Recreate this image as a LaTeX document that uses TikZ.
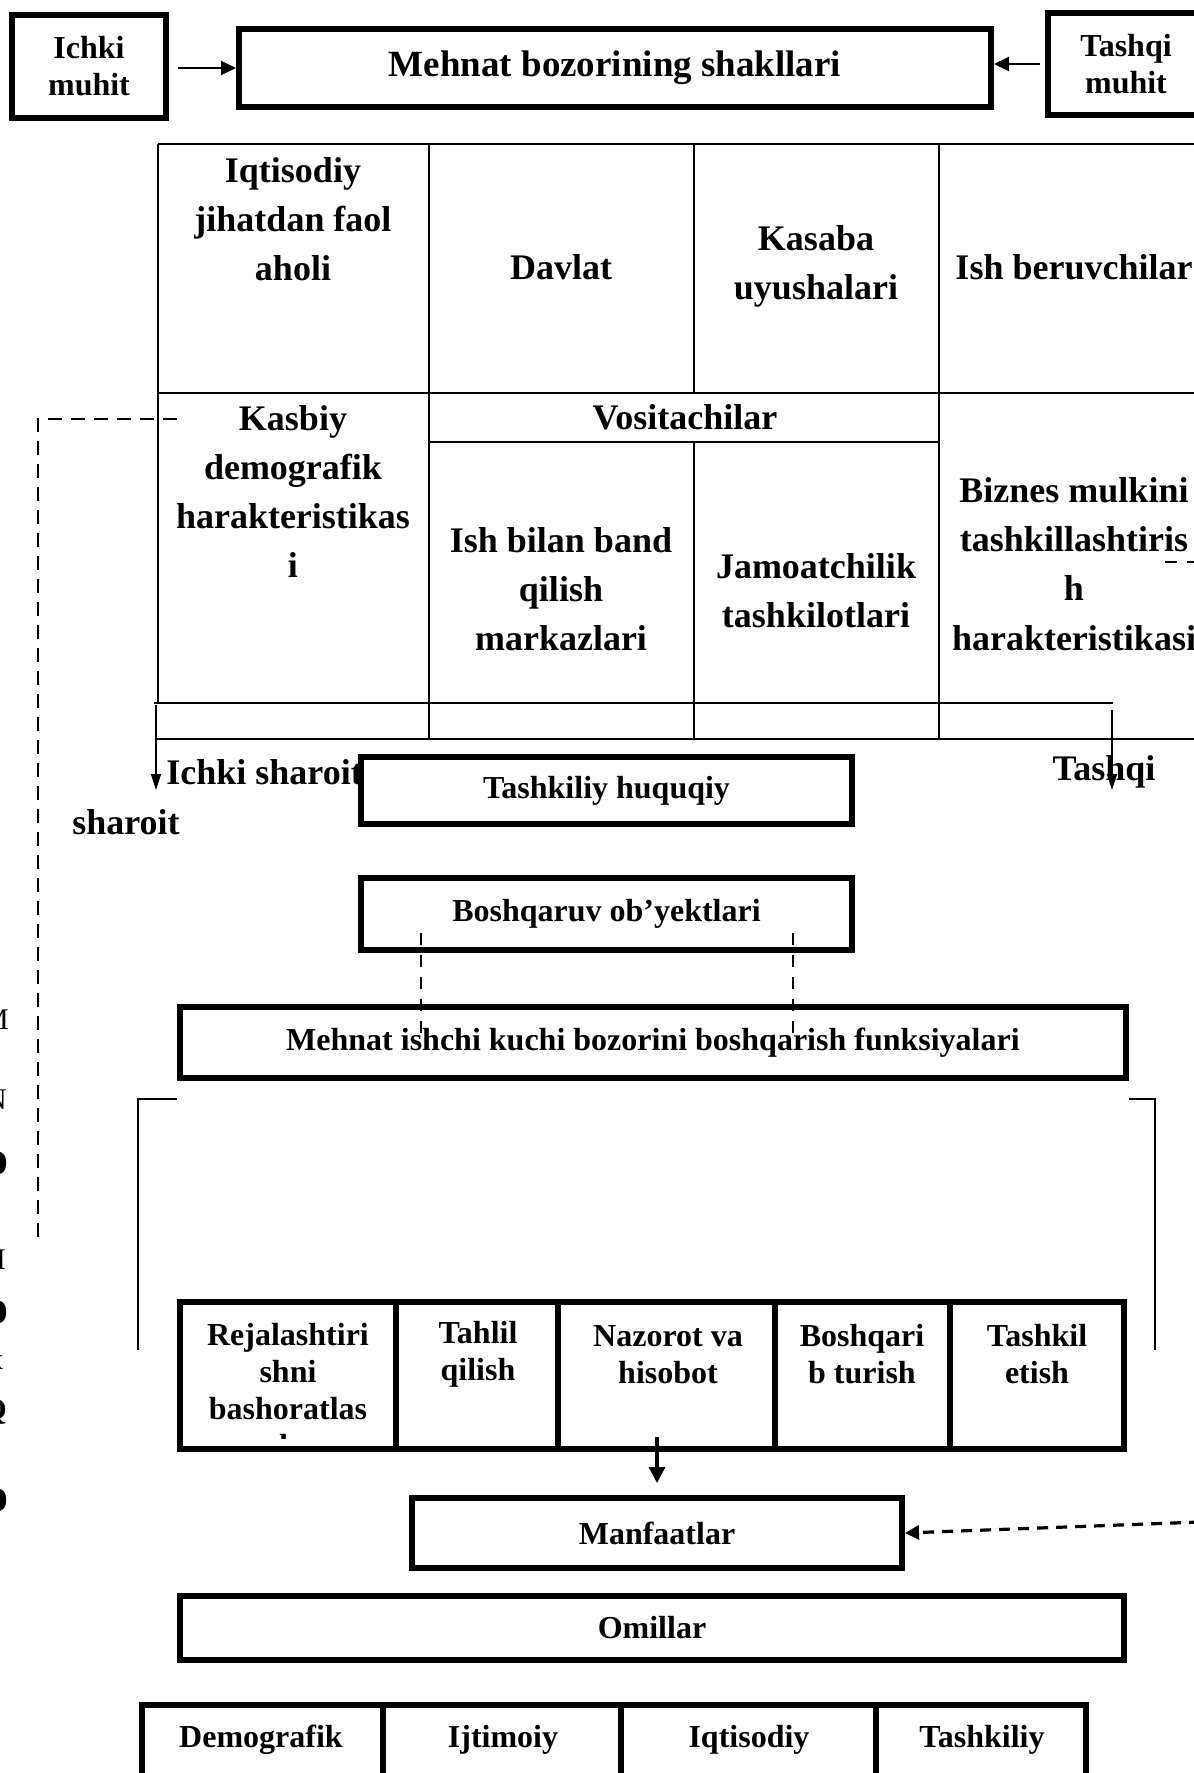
\documentclass[tikz,border=0pt]{standalone}
\usepackage{fontspec}
\setmainfont{Liberation Serif}
\usetikzlibrary{arrows.meta}
\newcommand\fbig{\fontsize{18}{24.6}\selectfont\bfseries}
\newcommand\ftitle{\fontsize{18.5}{22}\selectfont\bfseries}
\newcommand\fsml{\fontsize{16}{18.5}\selectfont\bfseries}
\newcommand\fchr{\fontsize{15}{15}\selectfont}
\newcommand\fchrb{\fontsize{24}{24}\selectfont\bfseries}
\begin{document}
\begin{tikzpicture}[x=0.5pt,y=-0.5pt,
  tbox/.style={draw,line width=3pt,inner sep=0pt,align=center,font=\fsml},
  cellbox/.style={draw,line width=3pt,inner sep=0pt},
  txt/.style={inner sep=0pt,align=center,font=\fbig},
  stxt/.style={inner sep=0pt,align=center,font=\fsml},
  tline/.style={line width=1pt},
  arr/.style={line width=1pt,-{Triangle[length=7.5pt,width=7pt]}},
  thinarr/.style={line width=0.8pt,-{Triangle[length=8pt,width=5pt]}},
  bigarr/.style={line width=1.6pt,-{Triangle[length=8pt,width=8pt]}},
  dshA/.style={line width=1pt,dash pattern=on 7pt off 4.5pt},
  dshB/.style={line width=1pt,dash pattern=on 6pt off 5pt},
  dshC/.style={line width=1.6pt,dash pattern=on 5.5pt off 4pt,-{Triangle[length=7pt,width=7pt]}},
  chr/.style={inner sep=0pt,font=\fchr},
  chrb/.style={inner sep=0pt,font=\fchrb}]
\useasboundingbox (0,0) rectangle (1194,1773);

% ---- top row
\node[tbox,minimum width=77pt,minimum height=51.5pt] (ichki) at (89,66.5) {Ichki\\muhit};
\node[tbox,font=\ftitle,minimum width=376pt,minimum height=39pt] (mehnat) at (615,68) {Mehnat bozorining shakllari};
\node[tbox,minimum width=78pt,minimum height=51pt] (tashqi) at (1126,64) {Tashqi\\muhit};
\draw[arr] ([xshift=4.5pt]ichki.east |- mehnat.west) -- (mehnat.west);
\draw[arr] ([xshift=-2.5pt]tashqi.west) -- (tashqi.west -| mehnat.east);

% ---- table
\draw[tline] (158,144) -- (1200,144);
\draw[tline] (158,144) -- (158,703);
\draw[tline] (429,144) -- (429,739);
\draw[tline] (694,144) -- (694,393);
\draw[tline] (694,442) -- (694,739);
\draw[tline] (939,144) -- (939,739);
\draw[tline] (158,393) -- (1200,393);
\draw[tline] (429,442) -- (939,442);
\draw[tline] (154,703) -- (1113,703);
\draw[tline] (156,739) -- (1200,739);

\node[txt] (t1) at (293,219) {Iqtisodiy\\jihatdan faol\\aholi};
\node[txt] (t2) at (561,267) {Davlat};
\node[txt] (t3) at (816,266.5) {Kasaba\\uyushalari};
\node[txt] (t4) at (1074,267) {Ish beruvchilar};
\node[txt] (t5) at (293,491.5) {Kasbiy\\demografik\\harakteristikas\\i};
\node[txt] (t6) at (685,417) {Vositachilar};
\node[txt] (t7) at (561,589) {Ish bilan band\\qilish\\markazlari};
\node[txt] (t8) at (816,591) {Jamoatchilik\\tashkilotlari};
\node[txt] (t9) at (1074,564) {Biznes mulkini\\tashkillashtiris\\h\\harakteristikasi};

\coordinate (la1) at (156,705);
\coordinate (la2) at (156,790);
\coordinate (ra1) at (1112,710);
\coordinate (ra2) at (1112,790);
\node[txt,anchor=west] (t10) at (166,772) {Ichki sharoit};
\node[txt] (t11) at (126,822) {sharoit};
\node[txt] (t12) at (1104,772) {Tashqi};
\draw[thinarr] (la1) -- (la2);
\draw[thinarr] (ra1) -- (ra2);

% dashed from Kasbiy cell
\coordinate (kd) at (177,419);
\coordinate (kc) at (38,419);
\coordinate (ke) at (38,1238);
\draw[dshA] (kd) -- (kc) -- (ke);
\coordinate (bz1) at (1165,562);
\coordinate (bz2) at (1200,562);
\draw[dshB] (bz1) -- (bz2);

% ---- middle boxes
\node[tbox,minimum width=245.5pt,minimum height=33.5pt] (huq) at (606.5,790.5) {Tashkiliy huquqiy};
\node[tbox,minimum width=245.5pt,minimum height=36pt] (obj) at (606.5,914) {Boshqaruv ob’yektlari};
\node[tbox,minimum width=473pt,minimum height=35.5pt] (fun) at (653,1042.5) {Mehnat ishchi kuchi bozorini boshqarish funksiyalari};
\draw[dshB] ([xshift=31.5pt,yshift=10pt]obj.south west) -- ([xshift=122pt,yshift=-14.5pt]fun.north west);
\draw[dshB] ([xshift=217.5pt,yshift=10pt]obj.south west) -- ([xshift=308pt,yshift=-14.5pt]fun.north west);

% brackets
\coordinate (bl) at (138,1350);
\coordinate (br) at (1155,1350);
\draw[tline] ([yshift=-9pt]fun.south west) -| (bl);
\draw[tline] ([yshift=-9pt]fun.south east) -| (br);

% ---- functions row
\node[cellbox,minimum width=108pt,minimum height=73.5pt] (c1) at (288,1375.5) {};
\node[cellbox,minimum width=81pt,minimum height=73.5pt] (c2) at (477,1375.5) {};
\node[cellbox,minimum width=108.5pt,minimum height=73.5pt] (c3) at (666.5,1375.5) {};
\node[cellbox,minimum width=87.5pt,minimum height=73.5pt] (c4) at (862.5,1375.5) {};
\node[cellbox,minimum width=87pt,minimum height=73.5pt] (c5) at (1037,1375.5) {};
\begin{scope}
\clip (183,1305) rectangle (393,1438);
\node[stxt] (f1) at (288,1390) {Rejalashtiri\\shni\\bashoratlas\\h};
\end{scope}
\node[stxt] (f2) at (478,1354.5) {Tahlil\\qilish};
\node[stxt] (f3) at (668,1354.5) {Nazorot va\\hisobot};
\node[stxt] (f4) at (862,1354.5) {Boshqari\\b turish};
\node[stxt] (f5) at (1037,1354.5) {Tashkil\\etish};

% ---- lower boxes
\node[tbox,minimum width=245pt,minimum height=35pt] (manf) at (657,1533) {Manfaatlar};
\node[tbox,minimum width=472pt,minimum height=32pt] (omil) at (652,1628) {Omillar};
\draw[bigarr] ([yshift=29pt]manf.north) -- ([yshift=6pt]manf.north);
\coordinate (ms) at (1200,1522);
\draw[dshC] (ms) -- (manf.east);

% ---- bottom row
\node[cellbox,minimum width=120.5pt,minimum height=50pt] (d1) at (262.5,1755) {};
\node[cellbox,minimum width=119pt,minimum height=50pt] (d2) at (502,1755) {};
\node[cellbox,minimum width=127.5pt,minimum height=50pt] (d3) at (748.5,1755) {};
\node[cellbox,minimum width=105pt,minimum height=50pt] (d4) at (981,1755) {};
\node[stxt] (e1) at (261,1740) {Demografik};
\node[stxt] (e2) at (503,1740) {Ijtimoiy};
\node[stxt] (e3) at (749,1740) {Iqtisodiy};
\node[stxt] (e4) at (982,1740) {Tashkiliy};

% ---- cut-off letters at the left edge
\node[chr] (m1) at (-4.5,1020) {M};
\node[chr] (m2) at (-4,1100) {N};
\node[chrb] (m3) at (-4,1163) {o};
\node[chr] (m4) at (-5,1260) {H};
\node[chrb] (m5) at (-4,1312) {o};
\node[chr] (m6) at (-4,1363) {x};
\node[chr,font=\fchr\bfseries] (m7) at (-5,1412) {Q};
\node[chrb] (m8) at (-4,1500) {o};
\end{tikzpicture}
\end{document}
